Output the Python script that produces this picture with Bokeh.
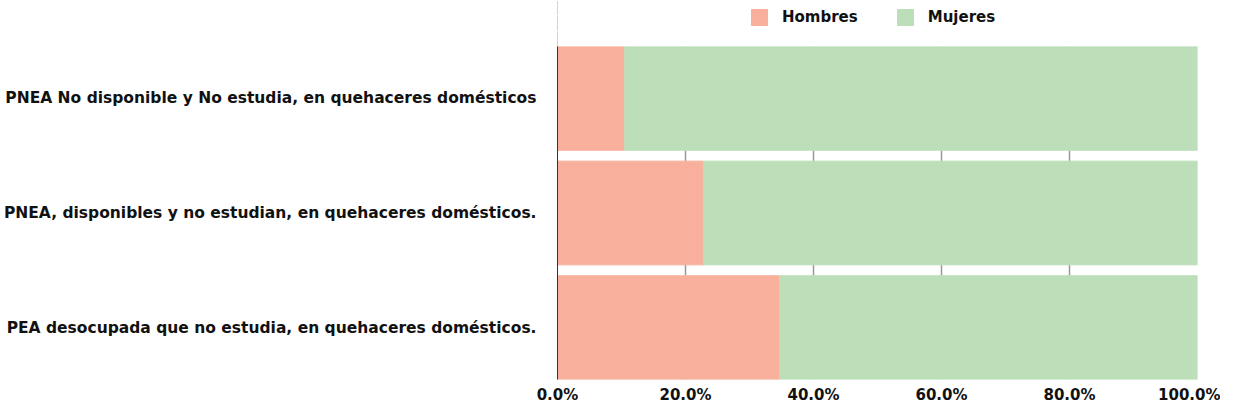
from bokeh.plotting import figure
from bokeh.layouts import column
from bokeh.models import Legend, LegendItem, NumeralTickFormatter, FixedTicker, ColumnDataSource, Range1d
from bokeh.embed import file_html
from bokeh.resources import INLINE

categories = [
    "PEA desocupada que no estudia, en quehaceres domésticos.",
    "PNEA, disponibles y no estudian, en quehaceres domésticos.",
    "PNEA No disponible y No estudia, en quehaceres domésticos",
]
hombres = [0.347, 0.228, 0.105]
mujeres = [1 - h for h in hombres]
series = ["Hombres", "Mujeres"]
x_ticks = [0, 0.2, 0.4, 0.6, 0.8, 1.0]

FONT = "DejaVu Sans"
C_H = "#F8AF9B"
C_M = "#BCDFBA"
TXT = "#111111"

src = ColumnDataSource(dict(cat=categories, Hombres=hombres, Mujeres=mujeres))

# ---- legend strip (top) ----
lg = figure(width=1220, height=46, y_range=categories, x_range=Range1d(20, 21),
            x_axis_type=None, y_axis_type=None, output_backend="svg", toolbar_location=None,
            min_border=0)
lg.outline_line_color = None
lg.grid.visible = False
lr = lg.hbar_stack(series, y="cat", height=0.9, color=[C_H, C_M], source=src)
legend = Legend(items=[LegendItem(label=series[0], renderers=[lr[0]]),
                       LegendItem(label=series[1], renderers=[lr[1]])],
                orientation="horizontal", location=(192, 19),
                label_text_font=FONT, label_text_font_style="bold", label_text_font_size="15px",
                label_text_color=TXT,
                glyph_width=20, glyph_height=20, spacing=37, label_standoff=13,
                border_line_color=None, background_fill_alpha=0, padding=0, margin=0)
lg.add_layout(legend)

# ---- main chart ----
p = figure(width=1220, height=360, y_range=categories, x_range=Range1d(0, 1),
           output_backend="svg", toolbar_location=None,
           min_border_right=23, min_border_top=0)
p.y_range.range_padding = -0.0475
p.y_range.range_padding_units = "absolute"

r = p.hbar_stack(series, y="cat", height=0.905, color=[C_H, C_M], source=src)

p.outline_line_color = None
p.ygrid.grid_line_color = None
p.xgrid.grid_line_color = "#999999"
p.xgrid.grid_line_width = 1.5
p.xaxis.ticker = FixedTicker(ticks=x_ticks)
p.xaxis.formatter = NumeralTickFormatter(format="0.0%")
p.xaxis.axis_line_color = None
p.xaxis.major_tick_line_color = None
p.xaxis.major_tick_out = 0
p.xaxis.minor_tick_line_color = None
p.xaxis.major_label_standoff = 6
p.yaxis.major_tick_line_color = None
p.yaxis.major_tick_out = 0
p.yaxis.minor_tick_line_color = None
p.yaxis.axis_line_color = "#333333"
p.yaxis.major_label_standoff = 21
for ax in (p.xaxis, p.yaxis):
    ax.major_label_text_font = FONT
    ax.major_label_text_font_style = "bold"
    ax.major_label_text_color = TXT
p.xaxis.major_label_text_font_size = "15px"
p.yaxis.major_label_text_font_size = "15.5px"

layout = column(lg, p, spacing=0)
open("out.html", "w").write(file_html(layout, INLINE))
